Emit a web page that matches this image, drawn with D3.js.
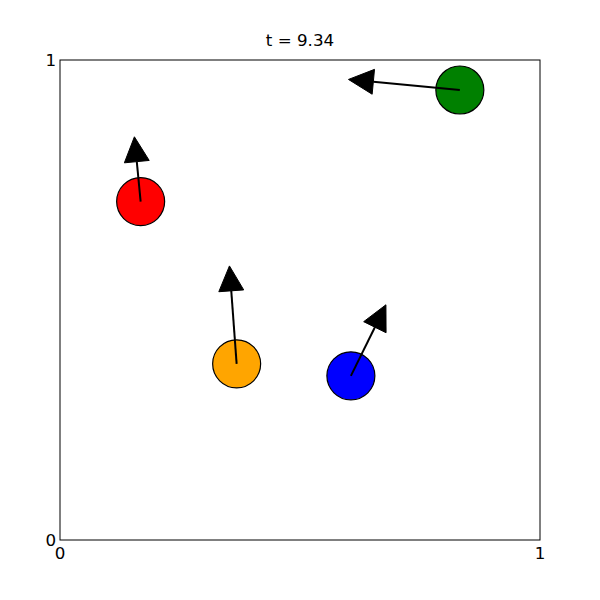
<!DOCTYPE html>
<html><head><meta charset="utf-8">
<script src="https://cdn.jsdelivr.net/npm/d3@7"></script>
<style>body{margin:0;background:#fff}</style>
</head><body>
<script>
const title = "t = 9.34";
const names = ["red", "orange", "blue", "green"];
const colors = ["#ff0000", "#ffa500", "#0000ff", "#008000"];
const xs = [0.168, 0.368, 0.606, 0.833];
const ys = [0.705, 0.367, 0.342, 0.9375];
const vxs = [-0.013, -0.015, 0.073, -0.232];
const vys = [0.135, 0.204, 0.148, 0.022];
const radius = 0.05;
const headWidth = 0.052;
const headLength = 0.052;
const tickValues = [0, 1];

const W = 600, H = 600;
const m = {l: 60, r: 60, t: 60, b: 60};
const svg = d3.select("body").append("svg").attr("width", W).attr("height", H);
const x = d3.scaleLinear().domain([0, 1]).range([m.l, W - m.r]);
const y = d3.scaleLinear().domain([0, 1]).range([H - m.b, m.t]);
const font = "DejaVu Sans, sans-serif";
const fs = 16.7;

svg.append("text").attr("x", (x(0) + x(1)) / 2).attr("y", 46)
  .attr("text-anchor", "middle").attr("font-family", font).attr("font-size", fs)
  .text(title);

const data = names.map((n, i) => ({n, c: colors[i], x: xs[i], y: ys[i], vx: vxs[i], vy: vys[i]}));

const g = svg.append("g");
g.selectAll("circle").data(data).join("circle")
  .attr("cx", d => x(d.x)).attr("cy", d => y(d.y))
  .attr("r", x(radius) - x(0))
  .attr("fill", d => d.c).attr("stroke", "#000").attr("stroke-width", 1.2);

// arrows (length includes head)
const sx = x(1) - x(0);
g.selectAll("g.arrow").data(data).join("g").attr("class", "arrow").each(function(d) {
  const x0 = x(d.x), y0 = y(d.y);
  const x1 = x(d.x + d.vx), y1 = y(d.y + d.vy);
  const L = Math.hypot(x1 - x0, y1 - y0);
  const ux = (x1 - x0) / L, uy = (y1 - y0) / L;
  const hl = headLength * sx, hw = headWidth * sx;
  const bx = x1 - ux * hl, by = y1 - uy * hl;
  const px = -uy, py = ux;
  const sel = d3.select(this);
  sel.append("line").attr("x1", x0).attr("y1", y0).attr("x2", bx).attr("y2", by)
    .attr("stroke", "#000").attr("stroke-width", 2);
  sel.append("path")
    .attr("d", `M${x1},${y1}L${bx + px * hw / 2},${by + py * hw / 2}L${bx - px * hw / 2},${by - py * hw / 2}Z`)
    .attr("fill", "#000").attr("stroke", "#000").attr("stroke-width", 1);
});

// frame
svg.append("rect").attr("x", x(0)).attr("y", y(1)).attr("width", x(1) - x(0)).attr("height", y(0) - y(1))
  .attr("fill", "none").attr("stroke", "#000").attr("stroke-width", 1);

// tick labels
svg.selectAll("text.xt").data(tickValues).join("text").attr("class", "xt")
  .attr("x", d => x(d)).attr("y", y(0) + 19).attr("text-anchor", "middle")
  .attr("font-family", font).attr("font-size", fs).text(d => d);
svg.selectAll("text.yt").data(tickValues).join("text").attr("class", "yt")
  .attr("x", x(0) - 4).attr("y", d => y(d) + 6).attr("text-anchor", "end")
  .attr("font-family", font).attr("font-size", fs).text(d => d);
</script>
</body></html>
